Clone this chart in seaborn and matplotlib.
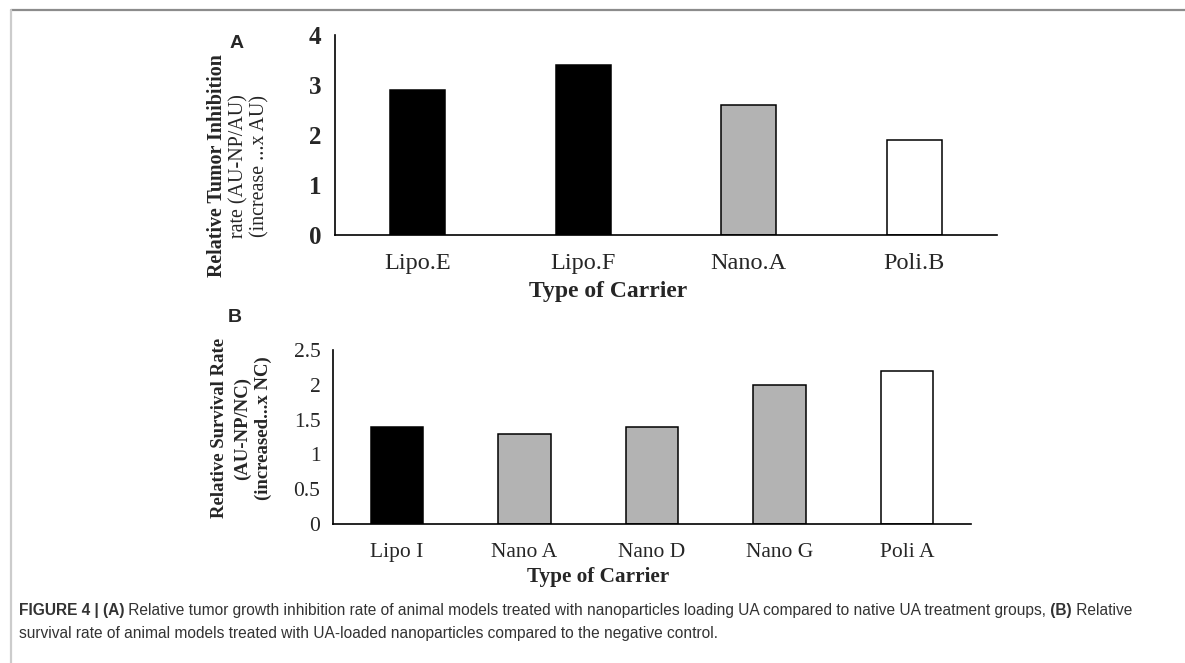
import matplotlib
matplotlib.use("Agg")
import matplotlib.pyplot as plt
from matplotlib.lines import Line2D
import pandas as pd
import seaborn as sns

# panel A: relative tumor inhibition
carriers_a = ["Lipo.E", "Lipo.F", "Nano.A", "Poli.B"]
inhibition_a = [2.9, 3.4, 2.6, 1.9]
colors_a = ["#000000", "#000000", "#b3b3b3", "#ffffff"]

# panel B: relative survival
carriers_b = ["Lipo I", "Nano A", "Nano D", "Nano G", "Poli A"]
survival_b = [1.4, 1.3, 1.4, 2.0, 2.2]
colors_b = ["#000000", "#b3b3b3", "#b3b3b3", "#b3b3b3", "#ffffff"]

W, H = 1185, 663
SERIF = ["Liberation Serif", "DejaVu Serif"]
SANS = ["Liberation Sans", "DejaVu Sans"]


def fx(px):
    return px / W


def fy(py):
    return 1 - py / H


def axes_box(x0, x1, ytop, ybase):
    return [fx(x0), fy(ybase), (x1 - x0) / W, (ybase - ytop) / H]


def draw_bars(ax, cats, vals, cols, width):
    df = pd.DataFrame({"carrier": cats, "value": vals})
    sns.barplot(data=df, x="carrier", y="value", hue="carrier",
                palette=dict(zip(cats, cols)), order=cats, hue_order=cats,
                width=width, edgecolor="black", linewidth=1.1,
                legend=False, saturation=1, ax=ax)
    n = len(cats)
    ax.set_xlim(-0.5, n - 0.5)
    ax.set_xticks(range(n))
    ax.set_xticks([i - 0.5 for i in range(n + 1)], minor=True)
    ax.tick_params(axis="x", which="major", length=0)
    ax.tick_params(axis="x", which="minor", length=6, width=1.2, direction="out")
    ax.tick_params(axis="y", length=6, width=1.2, direction="out")
    for s in ["top", "right"]:
        ax.spines[s].set_visible(False)
    for s in ["left", "bottom"]:
        ax.spines[s].set_linewidth(1.2)
        ax.spines[s].set_color("black")
    ax.set_xlabel("")
    ax.set_ylabel("")
    ax.grid(False)


sns.set_theme(style="white")
plt.rcParams["font.family"] = SERIF
fig = plt.figure(figsize=(W / 100, H / 100), dpi=100)

# ---- panel A
ax_a = fig.add_axes(axes_box(335, 997, 35, 235))
draw_bars(ax_a, carriers_a, inhibition_a, colors_a, 0.33)
ax_a.set_ylim(0, 4)
ax_a.set_yticks([0, 1, 2, 3, 4])
for lab in ax_a.get_yticklabels():
    lab.set_fontsize(18)
    lab.set_fontweight("bold")
    lab.set_family(SERIF)
for lab in ax_a.get_xticklabels():
    lab.set_fontsize(17.5)
    lab.set_family(SERIF)
ax_a.tick_params(axis="y", pad=4)
ax_a.tick_params(axis="x", which="major", pad=13)

fig.text(fx(608), fy(291), "Type of Carrier", ha="center", va="center",
         fontsize=17, fontweight="bold", family=SERIF)
for xp, txt, wt in [(217, "Relative Tumor Inhibition", "bold"),
                    (239, "rate (AU-NP/AU)", "normal"),
                    (260, "(increase ...x AU)", "normal")]:
    fig.text(fx(xp), fy(166), txt, rotation=90, ha="center", va="center",
             fontsize=14.4, fontweight=wt, family=SERIF)
fig.text(fx(237), fy(43), "A", ha="center", va="center", fontsize=14,
         fontweight="bold", family=SANS)

# ---- panel B
ax_b = fig.add_axes(axes_box(333, 971, 350, 524))
draw_bars(ax_b, carriers_b, survival_b, colors_b, 0.41)
ax_b.set_ylim(0, 2.5)
ax_b.set_yticks([0, 0.5, 1, 1.5, 2, 2.5])
ax_b.set_yticklabels(["0", "0.5", "1", "1.5", "2", "2.5"])
for lab in ax_b.get_yticklabels():
    lab.set_fontsize(15.5)
    lab.set_family(SERIF)
for lab in ax_b.get_xticklabels():
    lab.set_fontsize(15.5)
    lab.set_family(SERIF)
ax_b.tick_params(axis="y", pad=3)
ax_b.tick_params(axis="x", which="major", pad=14)

fig.text(fx(598), fy(577), "Type of Carrier", ha="center", va="center",
         fontsize=15.3, fontweight="bold", family=SERIF)
for xp, txt in [(220, "Relative Survival Rate"),
                (242, "(AU-NP/NC)"),
                (263, "(increased...x NC)")]:
    fig.text(fx(xp), fy(428), txt, rotation=90, ha="center", va="center",
             fontsize=13.5, fontweight="bold", family=SERIF)
fig.text(fx(235), fy(317), "B", ha="center", va="center", fontsize=14,
         fontweight="bold", family=SANS)

# ---- caption (mixed weight pieces, shared baseline)
renderer = fig.canvas.get_renderer()


def rich_line(x_px, y_px, pieces, size):
    x = x_px
    for txt, wt in pieces:
        t = fig.text(fx(x), fy(y_px), txt, ha="left", va="baseline",
                     fontsize=size, fontweight=wt, family=SANS, color="#333333")
        x += t.get_window_extent(renderer=renderer).width


cap_size = 11.2
rich_line(19, 615, [("FIGURE 4 | (A)", "bold"),
                    (" Relative tumor growth inhibition rate of animal models treated with "
                     "nanoparticles loading UA compared to native UA treatment groups,", "normal"),
                    (" (B)", "bold"),
                    (" Relative", "normal")], cap_size)
rich_line(19, 638, [("survival rate of animal models treated with UA-loaded nanoparticles "
                     "compared to the negative control.", "normal")], cap_size)

# frame lines of the figure panel
fig.add_artist(Line2D([fx(11), 1], [fy(10), fy(10)], color="#8c8c8c", lw=1.6))
fig.add_artist(Line2D([fx(11), fx(11)], [fy(10), 0], color="#cccccc", lw=1.6))

fig.savefig("out.png", dpi=100, facecolor="white")
